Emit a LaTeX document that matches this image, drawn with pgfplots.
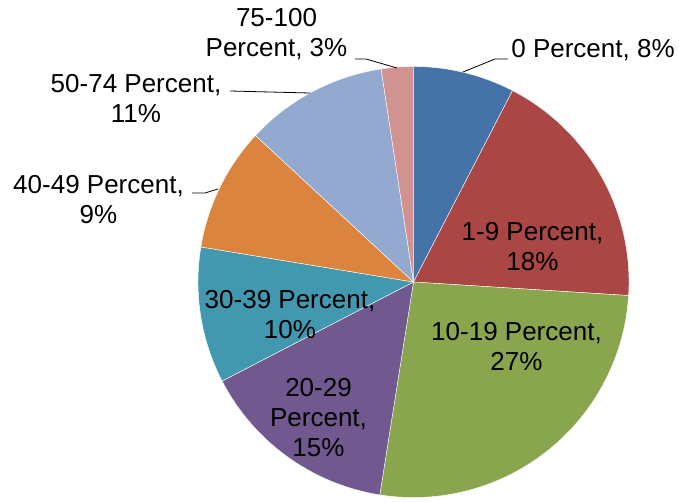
\documentclass[border=0pt]{standalone}
\usepackage{fontspec}
\setmainfont{Liberation Sans}
\usepackage{pgfplots}
\pgfplotsset{compat=1.18}

% Excel 2007 default palette
\definecolor{s1}{HTML}{4572A7}
\definecolor{s2}{HTML}{AA4643}
\definecolor{s3}{HTML}{89A54E}
\definecolor{s4}{HTML}{71588F}
\definecolor{s5}{HTML}{4198AF}
\definecolor{s6}{HTML}{DB843D}
\definecolor{s7}{HTML}{93A9CF}
\definecolor{s8}{HTML}{D19392}

\tikzset{lbl/.style={font=\fontsize{26bp}{30bp}\selectfont, align=center, inner sep=0pt}}

\begin{document}
\begin{tikzpicture}
\begin{axis}[
    hide axis,
    scale only axis,
    width=679bp, height=498bp,
    xmin=0, xmax=679,
    ymin=-498, ymax=0,
    clip=false,
  ]
  \path (rel axis cs:0,0) rectangle (rel axis cs:1,1);
  \def\cx{413.5}\def\cy{-282}\def\rr{215.5}
  \gdef\angA{90}
  % share of each slice (percent), clockwise from 12 o'clock
  \foreach \v/\c in {7.6/s1, 18.4/s2, 26.5/s3, 14.9/s4, 10.2/s5, 9.3/s6, 10.7/s7, 2.4/s8}{
    \pgfmathsetmacro\angB{\angA-3.6*\v}
    \edef\temp{\noexpand\fill[\c, draw=white, line width=0.4bp]
      (axis cs:\cx,\cy) -- ++(\angA:\rr bp)
      arc[start angle=\angA, end angle=\angB, radius=\rr bp] -- cycle;}
    \temp
    \global\let\angA\angB
  }

  % leader lines
  \draw[line width=0.8bp] (axis cs:463,-72) -- (axis cs:495,-59) -- (axis cs:508,-59);
  \draw[line width=0.8bp] (axis cs:397,-68) -- (axis cs:366,-59) -- (axis cs:355,-59);
  \draw[line width=0.8bp] (axis cs:310,-93) -- (axis cs:230,-91);
  \draw[line width=0.8bp] (axis cs:218,-189) -- (axis cs:205,-193) -- (axis cs:192,-193);

  % data labels
  \node[lbl] at (axis cs:593,-50) {0 Percent, 8\%};
  \node[lbl] at (axis cs:532.5,-247) {1-9 Percent,\\18\%};
  \node[lbl] at (axis cs:516.5,-346) {10-19 Percent,\\27\%};
  \node[lbl] at (axis cs:318.5,-417.5) {20-29\\Percent,\\15\%};
  \node[lbl] at (axis cs:290,-315) {30-39 Percent,\\10\%};
  \node[lbl] at (axis cs:98.5,-199.5) {40-49 Percent,\\9\%};
  \node[lbl] at (axis cs:136,-98.5) {50-74 Percent,\\11\%};
  \node[lbl] at (axis cs:276.5,-34.5) {75-100\\Percent, 3\%};
\end{axis}
\end{tikzpicture}
\end{document}
